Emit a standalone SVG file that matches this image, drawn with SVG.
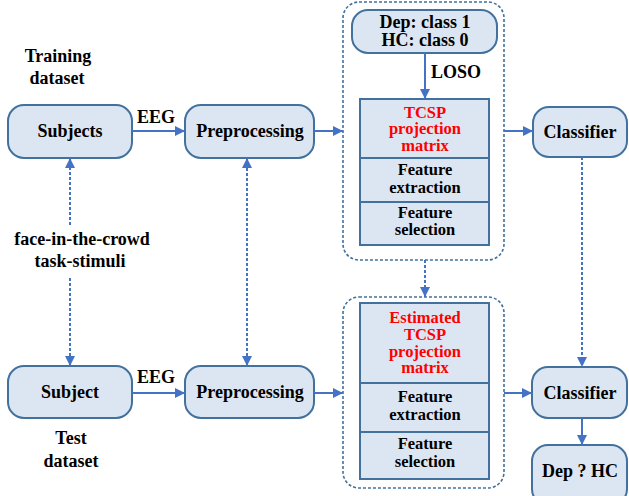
<svg xmlns="http://www.w3.org/2000/svg" width="629" height="496" viewBox="0 0 629 496" font-family="Liberation Serif, serif">
<defs>
<marker id="ah" viewBox="0 0 10 10" refX="10" refY="5" markerWidth="10" markerHeight="10" markerUnits="userSpaceOnUse" orient="auto-start-reverse">
<path d="M0,0 L10,5 L0,10 z" fill="#4472c4"/>
</marker>
<style>
.box{fill:#dce6f2;stroke:#41719c;stroke-width:2}
.stack{fill:#dce6f2;stroke:#41719c;stroke-width:2}
.cont{fill:none;stroke:#41719c;stroke-width:1.6;stroke-dasharray:3 2}
text{font-weight:bold;font-size:18px;fill:#000;text-anchor:middle}
.s{font-size:16.5px}
.r{fill:#ff0000}
.c{fill:none;stroke:#4472c4;stroke-width:2}
.d{fill:none;stroke:#4472c4;stroke-width:2;stroke-dasharray:3 2}
</style>
</defs>
<rect width="629" height="496" fill="#ffffff"/>

<g id="labels">
<text x="58" y="62">Training</text>
<text x="57" y="84">dataset</text>
<text x="82" y="245">face-in-the-crowd</text>
<text x="80" y="267">task-stimuli</text>
<text x="71" y="444">Test</text>
<text x="71" y="467">dataset</text>
<text x="156" y="123">EEG</text>
<text x="156" y="383">EEG</text>
<text x="456" y="78">LOSO</text>
</g>

<g id="container-train"><rect class="cont" x="343" y="2" width="161" height="258" rx="16"/></g>
<g id="container-test"><rect class="cont" x="343" y="297" width="161" height="191" rx="16"/></g>

<g id="subjects"><rect class="box" x="8" y="105" width="124" height="53" rx="16"/><text x="70" y="137">Subjects</text></g>
<g id="preproc-train"><rect class="box" x="185" y="105" width="129" height="53" rx="16"/><text x="250" y="137">Preprocessing</text></g>
<g id="labels-box"><rect class="box" x="352" y="10" width="145" height="43" rx="16"/><text x="425" y="28">Dep: class 1</text><text x="425" y="46">HC: class 0</text></g>
<g id="stack-train">
<rect class="stack" x="360" y="99" width="129" height="146"/>
<line x1="360" y1="158" x2="489" y2="158" stroke="#41719c" stroke-width="2"/>
<line x1="360" y1="202" x2="489" y2="202" stroke="#41719c" stroke-width="2"/>
<text class="r s" x="425" y="118">TCSP</text>
<text class="r s" x="425" y="134">projection</text>
<text class="r s" x="425" y="151">matrix</text>
<text class="s" x="425" y="175">Feature</text>
<text class="s" x="425" y="193">extraction</text>
<text class="s" x="425" y="218">Feature</text>
<text class="s" x="425" y="235">selection</text>
</g>
<g id="classifier-train"><rect class="box" x="533" y="107" width="94" height="50" rx="16"/><text x="580" y="138">Classifier</text></g>

<g id="subject"><rect class="box" x="8" y="366" width="124" height="52" rx="16"/><text x="70" y="398">Subject</text></g>
<g id="preproc-test"><rect class="box" x="185" y="366" width="129" height="52" rx="16"/><text x="250" y="398">Preprocessing</text></g>
<g id="stack-test">
<rect class="stack" x="360" y="303" width="129" height="176"/>
<line x1="360" y1="383" x2="489" y2="383" stroke="#41719c" stroke-width="2"/>
<line x1="360" y1="432" x2="489" y2="432" stroke="#41719c" stroke-width="2"/>
<text class="r s" x="425" y="323">Estimated</text>
<text class="r s" x="425" y="340">TCSP</text>
<text class="r s" x="425" y="357">projection</text>
<text class="r s" x="425" y="373">matrix</text>
<text class="s" x="425" y="402">Feature</text>
<text class="s" x="425" y="420">extraction</text>
<text class="s" x="425" y="449">Feature</text>
<text class="s" x="425" y="467">selection</text>
</g>
<g id="classifier-test"><rect class="box" x="532" y="367" width="95" height="51" rx="16"/><text x="580" y="399">Classifier</text></g>
<g id="result"><rect class="box" x="532" y="445" width="95" height="60" rx="16"/><text x="580" y="477">Dep ? HC</text></g>

<g id="connectors">
<line class="c" x1="132" y1="131" x2="185" y2="131" marker-end="url(#ah)"/>
<line class="c" x1="314" y1="131" x2="343" y2="131" marker-end="url(#ah)"/>
<line class="c" x1="425" y1="53" x2="425" y2="99" marker-end="url(#ah)"/>
<line class="c" x1="504" y1="131" x2="533" y2="131" marker-end="url(#ah)"/>
<line class="c" x1="132" y1="393" x2="185" y2="393" marker-end="url(#ah)"/>
<line class="c" x1="314" y1="393" x2="343" y2="393" marker-end="url(#ah)"/>
<line class="c" x1="504" y1="393" x2="532" y2="393" marker-end="url(#ah)"/>
<line class="c" x1="582" y1="418" x2="582" y2="445" marker-end="url(#ah)"/>
<line class="d" x1="70" y1="225" x2="70" y2="158" marker-end="url(#ah)"/>
<line class="d" x1="70" y1="278" x2="70" y2="366" marker-end="url(#ah)"/>
<line class="d" x1="247" y1="158" x2="247" y2="366" marker-start="url(#ah)" marker-end="url(#ah)"/>
<line class="d" x1="425" y1="260" x2="425" y2="297" marker-end="url(#ah)"/>
<line class="d" x1="582" y1="157" x2="582" y2="367" marker-end="url(#ah)"/>
</g>
</svg>
